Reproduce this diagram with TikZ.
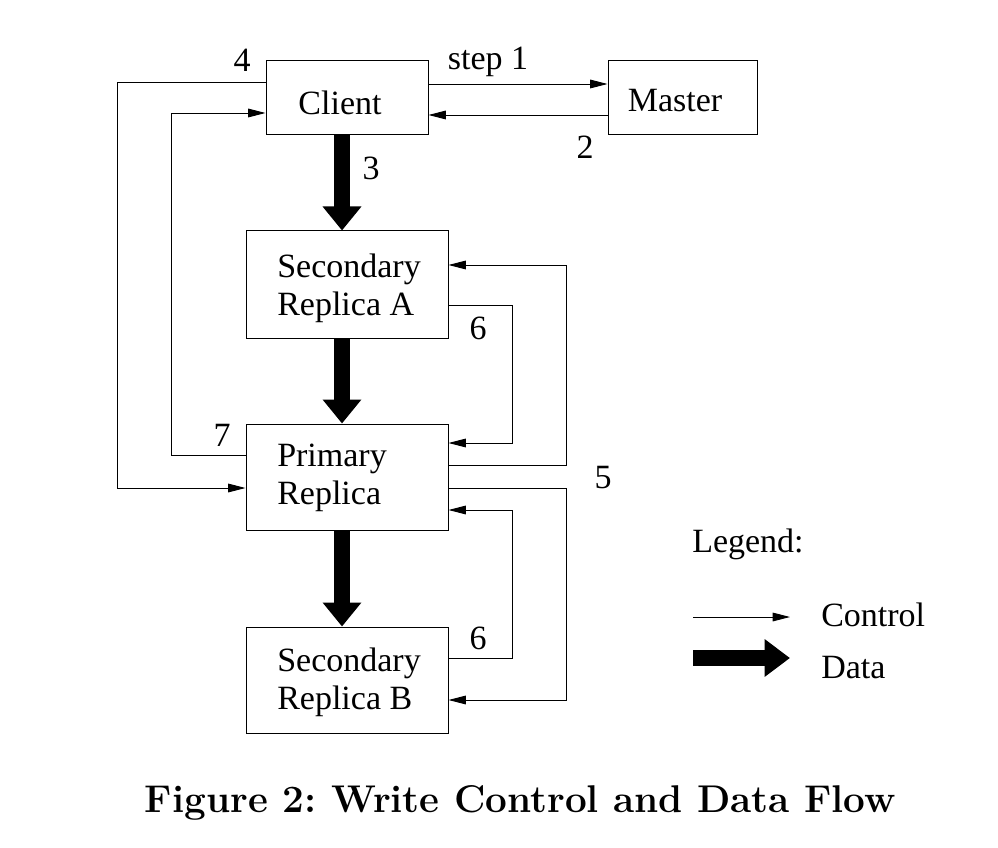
\documentclass[tikz,border=0pt]{standalone}
\usepackage{fontspec}
\setmainfont{Liberation Serif}
\newfontfamily\capfont{Latin Modern Roman}
\usetikzlibrary{arrows.meta,calc}
\begin{document}
\begin{tikzpicture}[x=0.75pt,y=-0.75pt,
  box/.style={draw,line width=0.75pt,inner sep=0pt},
  txt/.style={font=\fontsize{25.5}{28.5}\selectfont,inner sep=0pt},
  lbl/.style={font=\fontsize{25.5}{28.5}\selectfont,inner sep=0pt},
  ctrl/.style={line width=0.7pt,-{Triangle[length=13pt,width=6.5pt]}},
  data/.style={line width=12pt,-{Triangle[length=18pt,width=28pt]}}]
\useasboundingbox (0,0) rectangle (998,848);
% boxes
\node[box,minimum width=121.5pt,minimum height=55.5pt] (client) at (347,98) {};
\node[box,minimum width=111.75pt,minimum height=55.5pt] (master) at (682.5,98) {};
\node[box,minimum width=151.5pt,minimum height=80.25pt] (secA) at (347,284.5) {};
\node[box,minimum width=151.5pt,minimum height=79.5pt] (primary) at (347,477) {};
\node[box,minimum width=151.5pt,minimum height=79.5pt] (secB) at (347,680) {};
% box texts
\node[txt] (clientT) at (340,103) {Client};
\node[txt] (masterT) at (675,101) {Master};
\node[txt,anchor=west,align=left] (secAT) at (277,288) {Secondary\\Replica A};
\node[txt,anchor=west,align=left] (primaryT) at (277,478) {Primary\\Replica};
\node[txt,anchor=west,align=left] (secBT) at (277,682) {Secondary\\Replica B};
% control flow
\draw[ctrl] ($(client.east)+(0,-14)$) -- ($(master.west)+(0,-14)$);
\draw[ctrl] ($(master.west)+(0,17)$) -- ($(client.east)+(0,17)$);
\draw[ctrl] ($(client.west)+(0,-16)$) -- ++(-148,0) |- ($(primary.west)+(0,11)$);
\draw[ctrl] ($(primary.west)+(0,-22)$) -- ++(-74,0) |- ($(client.west)+(0,15)$);
\draw[ctrl] ($(primary.east)+(0,-12)$) -- ++(118,0) |- ($(secA.east)+(0,-19.5)$);
\draw[ctrl] ($(primary.east)+(0,11)$) -- ++(118,0) |- ($(secB.east)+(0,20)$);
\draw[ctrl] ($(secA.east)+(0,20.5)$) -- ++(64,0) |- ($(primary.east)+(0,-34)$);
\draw[ctrl] ($(secB.east)+(0,-22)$) -- ++(64,0) |- ($(primary.east)+(0,33)$);
% data flow
\draw[data] ($(client.south)+(-5,0)$) -- ($(secA.north)+(-5,0)$);
\draw[data] ($(secA.south)+(-5,0)$) -- ($(primary.north)+(-5,0)$);
\draw[data] ($(primary.south)+(-5,0)$) -- ($(secB.north)+(-5,0)$);
% labels
\node[lbl] (l1) at (488,62) {step 1};
\node[lbl] (l2) at (585,147) {2};
\node[lbl] (l3) at (371,168) {3};
\node[lbl] (l4) at (242,60) {4};
\node[lbl] (l5) at (603,478) {5};
\node[lbl] (l6a) at (478,328) {6};
\node[lbl] (l6b) at (478,638) {6};
\node[lbl] (l7) at (222,435) {7};
% legend
\node[lbl,anchor=west] (leg) at (692,544) {Legend:};
\coordinate (cS) at (693,617);
\coordinate (cE) at (790,617);
\draw[ctrl] (cS) -- (cE);
\node[lbl,anchor=west] (legC) at (821,615) {Control};
\coordinate (dS) at (693,658);
\coordinate (dE) at (790,658);
\draw[data,-{Triangle[length=19pt,width=27pt]}] (dS) -- (dE);
\node[lbl,anchor=west] (legD) at (821,668) {Data};
% caption
\node[font=\capfont\bfseries\fontsize{29}{34}\selectfont,inner sep=0pt] (cap) at (520.5,803) {Figure 2:\hspace{0.4em}Write Control and Data Flow};
\end{tikzpicture}
\end{document}
